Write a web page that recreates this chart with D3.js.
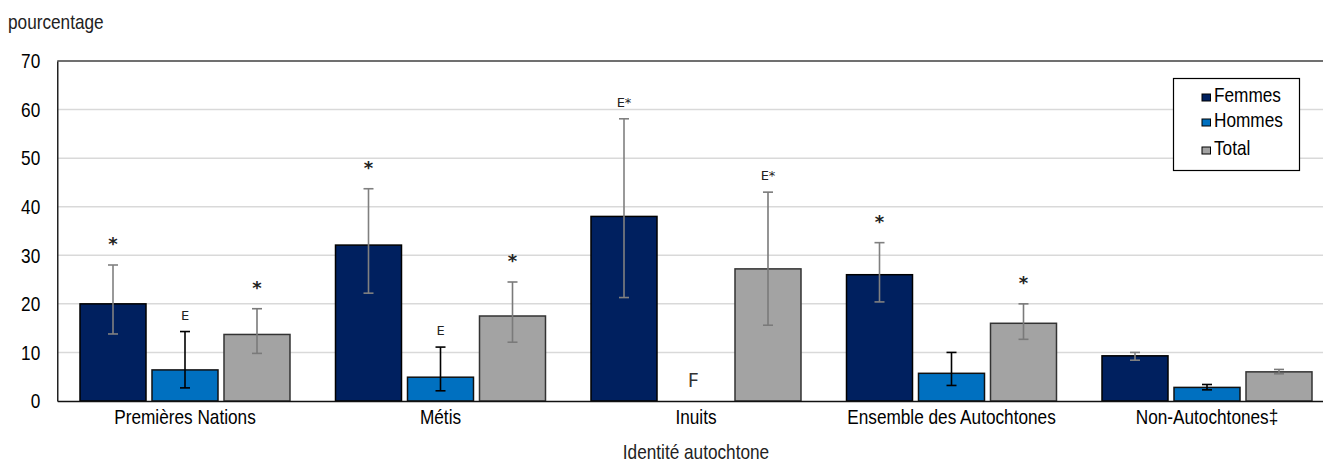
<!DOCTYPE html>
<html>
<head>
<meta charset="utf-8">
<script src="https://cdn.jsdelivr.net/npm/d3@7"></script>
<style>
  body { margin: 0; background: #fff; }
  svg { display: block; }
  text { font-family: "Liberation Sans", Arial, sans-serif; }
</style>
</head>
<body>
<svg id="chart" width="1323" height="462"></svg>
<script>
const categories = ["Premières Nations", "Métis", "Inuits", "Ensemble des Autochtones", "Non-Autochtones‡"];
const seriesNames = ["Femmes", "Hommes", "Total"];
const femmes      = [20.0, 32.1, 38.0, 26.0, 9.3];
const femmesLow   = [13.8, 22.2, 21.3, 20.4, 8.4];
const femmesHigh  = [28.0, 43.7, 58.1, 32.6, 10.0];
const hommes      = [6.4, 4.9, null, 5.7, 2.8];
const hommesLow   = [2.7, 2.1, null, 3.2, 2.3];
const hommesHigh  = [14.3, 11.1, null, 10.0, 3.4];
const total       = [13.7, 17.5, 27.2, 16.0, 6.0];
const totalLow    = [9.8, 12.1, 15.6, 12.7, 5.6];
const totalHigh   = [19.0, 24.5, 43.0, 20.0, 6.5];
const femmesNotes = ["*", "*", "E*", "*", ""];
const hommesNotes = ["E", "E", "F", "", ""];
const totalNotes  = ["*", "*", "E*", "*", ""];
const yTicks = [0, 10, 20, 30, 40, 50, 60, 70];
const yLabel = "pourcentage";
const xLabel = "Identité autochtone";

const colors = {Femmes: "#00205f", Hommes: "#0070c0", Total: "#a3a3a3"};
const errColors = {Femmes: "#808080", Hommes: "#000000", Total: "#7a7a7a"};
const strokeColors = {Femmes: "#000", Hommes: "#111", Total: "#333"};

const seriesData = {
  Femmes: {v: femmes, lo: femmesLow, hi: femmesHigh, notes: femmesNotes},
  Hommes: {v: hommes, lo: hommesLow, hi: hommesHigh, notes: hommesNotes},
  Total:  {v: total,  lo: totalLow,  hi: totalHigh,  notes: totalNotes}
};

const FS = 21, CONDENSE = 0.82;
function condense(sel) {
  sel.each(function() {
    const t = d3.select(this);
    const X = +t.attr("x") || 0;
    t.attr("transform", `translate(${X},0) scale(${CONDENSE},1) translate(${-X},0)`);
  });
}

const svg = d3.select("#chart");
const plotLeft = 57.25, plotTop = 61, plotBottom = 401, groupW = 255.5;
const x0 = d3.scaleBand().domain(categories).range([plotLeft, plotLeft + groupW * categories.length]).paddingInner(0).paddingOuter(0);
const x1 = d3.scaleBand().domain(seriesNames).range([0, x0.bandwidth()]).paddingInner(6/72).paddingOuter(0.316);
const y = d3.scaleLinear().domain([0, 70]).range([plotBottom, plotTop]);

// gridlines
svg.append("g").selectAll("line").data(yTicks.filter(t => t > 0 && t < 70)).join("line")
  .attr("x1", plotLeft).attr("x2", 1323)
  .attr("y1", d => y(d)).attr("y2", d => y(d))
  .attr("stroke", "#d9d9d9").attr("stroke-width", 1.5);

// top frame line
svg.append("line").attr("x1", plotLeft).attr("x2", 1323).attr("y1", y(70)).attr("y2", y(70))
  .attr("stroke", "#404040").attr("stroke-width", 1.5);

// y axis
const yAxis = d3.axisLeft(y).tickValues(yTicks).tickSize(0).tickPadding(17);
const yg = svg.append("g").attr("transform", `translate(${plotLeft},0)`).call(yAxis);
yg.select(".domain").attr("stroke", "#222").attr("stroke-width", 1.5);
yg.selectAll("text").attr("font-size", FS).attr("fill", "#000")
  .style("font-family", '"Liberation Sans", Arial, sans-serif').call(condense);

// bars
const groups = svg.append("g").selectAll("g").data(categories).join("g")
  .attr("transform", d => `translate(${x0(d)},0)`);

seriesNames.forEach(s => {
  const sd = seriesData[s];
  groups.each(function(c, i) {
    const g = d3.select(this);
    const v = sd.v[i];
    const cx = x1(s) + x1.bandwidth() / 2;
    if (v != null) {
      g.append("rect")
        .attr("x", x1(s)).attr("width", x1.bandwidth())
        .attr("y", y(v)).attr("height", y(0) - y(v))
        .attr("fill", colors[s]).attr("stroke", strokeColors[s]).attr("stroke-width", 1.5);
      const lo = sd.lo[i], hi = sd.hi[i];
      const eg = g.append("g").attr("stroke", errColors[s]).attr("stroke-width", 1.6);
      eg.append("line").attr("x1", cx).attr("x2", cx).attr("y1", y(lo)).attr("y2", y(hi));
      eg.append("line").attr("x1", cx - 5).attr("x2", cx + 5).attr("y1", y(lo)).attr("y2", y(lo));
      eg.append("line").attr("x1", cx - 5).attr("x2", cx + 5).attr("y1", y(hi)).attr("y2", y(hi));
      const note = sd.notes[i];
      if (note) {
        g.append("text").attr("x", cx).attr("y", y(hi) - (note === "E" ? 12 : (note === "*" ? 15 : 12)))
          .attr("text-anchor", "middle")
          .attr("font-size", note === "*" ? 18 : 13)
          .attr("font-weight", note === "*" ? "bold" : "normal")
          .attr("fill", "#222")
          .style("font-family", '"DejaVu Sans", sans-serif')
          .text(note);
      }
    } else {
      const note = sd.notes[i];
      if (note) {
        g.append("text").attr("x", cx - 3).attr("y", plotBottom - 14)
          .attr("text-anchor", "middle").attr("font-size", 20).attr("fill", "#333")
          .style("font-family", '"Noto Sans", "DejaVu Sans", sans-serif')
          .text(note);
      }
    }
  });
});

// x axis
const xAxis = d3.axisBottom(x0).tickSize(0).tickPadding(8);
const xg = svg.append("g").attr("transform", `translate(0,${plotBottom})`).call(xAxis);
xg.select(".domain").attr("stroke", "#111").attr("stroke-width", 1.6);
xg.selectAll("text").attr("font-size", FS).attr("fill", "#000")
  .style("font-family", '"Liberation Sans", Arial, sans-serif').call(condense);

// axis titles
svg.append("text").attr("x", 8).attr("y", 29).attr("font-size", FS).attr("fill", "#222").text(yLabel).call(condense);
svg.append("text").attr("x", 696).attr("y", 459).attr("text-anchor", "middle").attr("font-size", FS).attr("fill", "#222").text(xLabel).call(condense);

// legend
const lg = svg.append("g");
lg.append("rect").attr("x", 1173.5).attr("y", 78.5).attr("width", 126).attr("height", 92)
  .attr("fill", "#fff").attr("stroke", "#000").attr("stroke-width", 1.2);
const legendRows = [102, 127, 155];
seriesNames.forEach((s, i) => {
  lg.append("rect").attr("x", 1202).attr("y", legendRows[i] - 8).attr("width", 8.5).attr("height", 7)
    .attr("fill", colors[s]).attr("stroke", "#000").attr("stroke-width", 1);
  lg.append("text").attr("x", 1214).attr("y", legendRows[i]).attr("font-size", FS).attr("fill", "#000").text(s).call(condense);
});
</script>
</body>
</html>
